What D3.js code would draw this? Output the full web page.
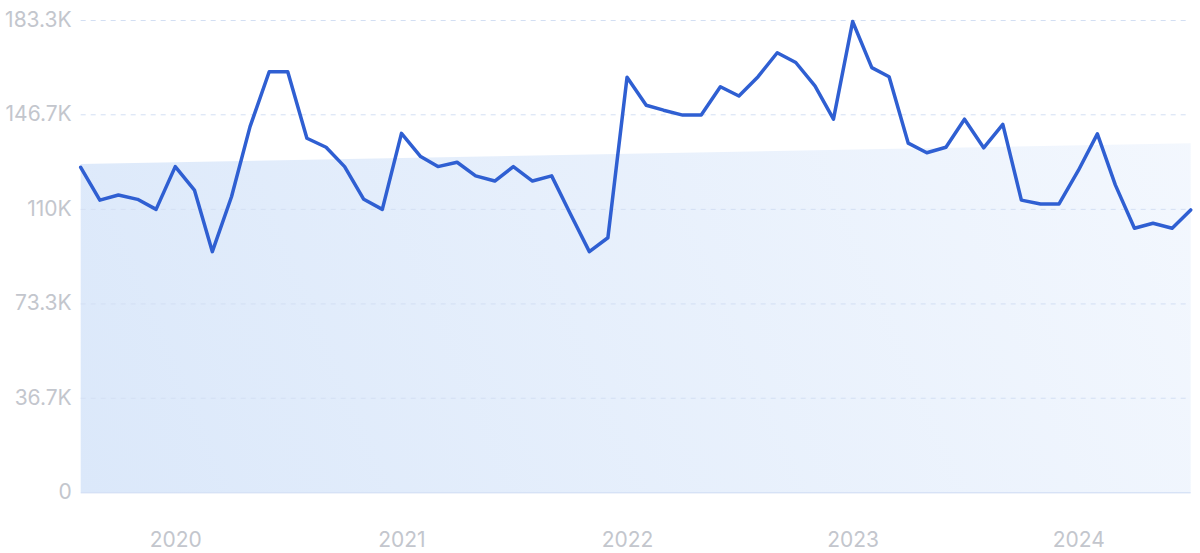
<!DOCTYPE html>
<html><head><meta charset="utf-8">
<script src="https://cdn.jsdelivr.net/npm/d3@7"></script>
<style>
html,body{margin:0;padding:0;background:#fff;}
svg{display:block;}
</style></head>
<body>
<svg id="chart" width="1200" height="553"></svg>
<script>
// Monthly values (thousands), Aug 2019 .. Jul 2024
const startMonth = [2019, 7]; // year, zero-based month
const values = [
  126.1,113.4,115.4,113.7,109.8,126.4,117.3,93.4,114.7,141.9,
  163.2,163.2,137.4,133.9,126.4,113.7,109.8,139.3,130.3,126.4,
  128.1,122.8,120.8,126.4,120.8,122.8,108.2,93.4,98.8,161.1,
  150.2,148.3,146.4,146.4,157.4,153.8,161.3,170.6,166.8,157.7,
  144.8,182.7,164.8,161.3,135.5,131.8,133.9,144.8,133.7,142.8,
  113.4,111.9,111.9,124.8,139.1,119.3,102.5,104.4,102.5,109.6
];
// Trend band top edge (thousands) at first and last month
const trendValues = [127.4, 135.5];
const yTicks = [0, 36.7, 73.3, 110, 146.7, 183.3];
const yTickLabels = ["0", "36.7K", "73.3K", "110K", "146.7K", "183.3K"];
const xYears = [2020, 2021, 2022, 2023, 2024];

const dates = values.map((v, i) => new Date(startMonth[0], startMonth[1] + i, 1));
const data = values.map((v, i) => ({date: dates[i], value: v}));

const svg = d3.select("#chart");
const margin = {left: 80.7, right: 9.3, top: 20, bottom: 60.7};
const W = 1200, H = 553;

const x = d3.scaleTime()
  .domain([dates[0], dates[dates.length - 1]])
  .range([margin.left, W - margin.right]);
const y = d3.scaleLinear()
  .domain([0, 183.3])
  .range([H - margin.bottom, margin.top]);

const defs = svg.append("defs");
const grad = defs.append("linearGradient")
  .attr("id", "fillGrad")
  .attr("gradientUnits", "userSpaceOnUse")
  .attr("x1", margin.left).attr("y1", H - margin.bottom)
  .attr("x2", W - margin.right).attr("y2", margin.top);
grad.append("stop").attr("offset", "0").attr("stop-color", "#dbe8fa");
grad.append("stop").attr("offset", "1").attr("stop-color", "#f4f8fe");

// trend area
const trendData = [
  {date: dates[0], value: trendValues[0]},
  {date: dates[dates.length - 1], value: trendValues[1]}
];
svg.append("path")
  .datum(trendData)
  .attr("fill", "url(#fillGrad)")
  .attr("d", d3.area().x(d => x(d.date)).y0(y(0)).y1(d => y(d.value)));

// grid lines
const yAxis = d3.axisLeft(y)
  .tickValues(yTicks)
  .tickFormat((d, i) => yTickLabels[i])
  .tickSize(-(W - margin.left - margin.right))
  .tickPadding(9);
const gy = svg.append("g")
  .attr("transform", `translate(${margin.left},0)`)
  .call(yAxis);
gy.select(".domain").remove();
gy.selectAll(".tick line")
  .attr("stroke", d => d === 0 ? "#c8d8f2" : "#d3dff3")
  .attr("stroke-width", 1)
  .attr("stroke-dasharray", d => d === 0 ? null : "5,5");
gy.selectAll(".tick text")
  .attr("fill", "#c3c6cd")
  .attr("font-family", "Inter, 'Open Sans', sans-serif")
  .attr("font-size", 21)
  .attr("dy", "0.3em");

// x axis
const xAxis = d3.axisBottom(x)
  .tickValues(xYears.map(yr => new Date(yr, 0, 1)))
  .tickFormat(d3.timeFormat("%Y"))
  .tickSize(0)
  .tickPadding(40);
const gx = svg.append("g")
  .attr("transform", `translate(0,${H - margin.bottom})`)
  .call(xAxis);
gx.select(".domain").remove();
gx.selectAll(".tick text")
  .attr("fill", "#c3c6cd")
  .attr("font-family", "Inter, 'Open Sans', sans-serif")
  .attr("font-size", 21);

// line
svg.append("path")
  .datum(data)
  .attr("fill", "none")
  .attr("stroke", "#2f5fd2")
  .attr("stroke-width", 3.5)
  .attr("stroke-linejoin", "round")
  .attr("stroke-linecap", "round")
  .attr("d", d3.line().x(d => x(d.date)).y(d => y(d.value)));
</script>
</body></html>
